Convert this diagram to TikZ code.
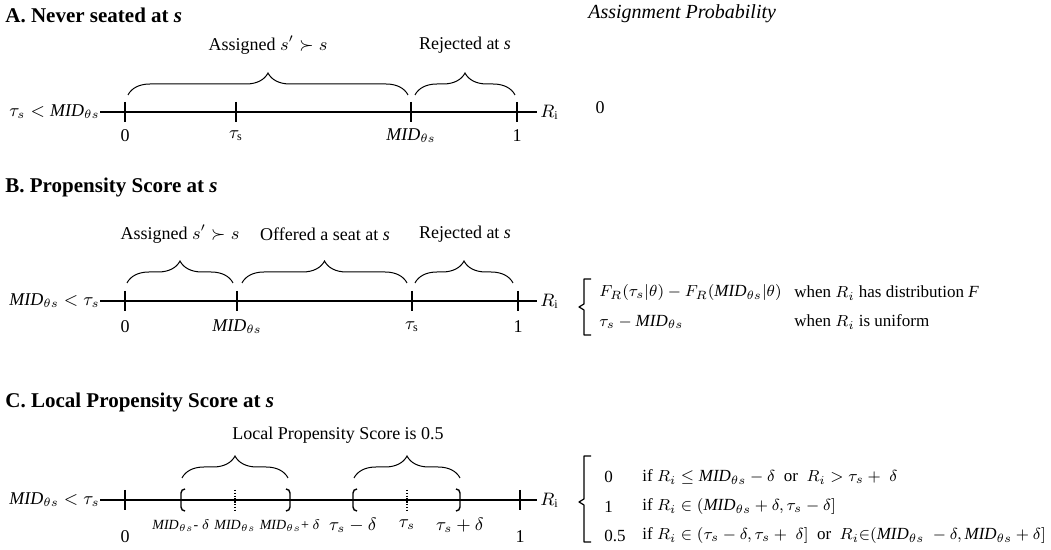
\documentclass[tikz,border=0pt]{standalone}
\usepackage{fontspec}
\setmainfont{Liberation Serif}
\usetikzlibrary{calc,decorations.pathreplacing}

\newcommand{\MID}{\mathit{MID}}

\begin{document}
\begin{tikzpicture}[x=0.5pt,y=0.5pt,
  axisline/.style={line width=1.2pt},
  tickmark/.style={line width=0.7pt},
  dottick/.style={line width=0.7pt,dash pattern=on 0.7pt off 0.7pt},
  brc/.style={decorate,decoration={brace,amplitude=11pt},line width=0.5pt},
  bigbrc/.style={line width=0.6pt,line join=round},
  txt/.style={font=\fontsize{9}{11}\selectfont,inner sep=0pt},
  sml/.style={font=\fontsize{7}{8}\selectfont,inner sep=0pt},
  cases/.style={font=\fontsize{8.5}{10}\selectfont,inner sep=0pt,anchor=west},
  rlbl/.style={txt,anchor=west,inner sep=1.5pt},
  ttl/.style={font=\fontsize{10.5}{12}\selectfont\bfseries,anchor=west,inner sep=0pt},
]
\useasboundingbox (0,0) rectangle (1051,-550);
% ---------- A ----------
\node[ttl] (ttlA) at (5,-15) {A. Never seated at \textit{s}};
\node[txt,font=\fontsize{10}{12}\selectfont\itshape,anchor=west] (prob) at (588,-14) {Assignment Probability};
\node[txt,anchor=east] (leftA) at (100,-112) {$\tau_s < \MID_{\theta s}$};
\node[rlbl] (RA) at (537,-112) {$R_{\mathrm{i}}$};
\draw[axisline] (leftA.east) -- (RA.west);
\foreach \x/\n in {125/a0,236/a1,411/a2,517/a3}
  \coordinate (\n) at (\x,-112);
\foreach \n in {a0,a1,a2,a3}
  \draw[tickmark] ($(\n)+(0,10)$) -- ($(\n)+(0,-10)$);
\node[txt] (la0) at (125,-136) {0};
\node[txt] (la1) at (236,-136) {$\tau_{\mathrm{s}}$};
\node[txt] (la2) at (411,-136) {$\MID_{\theta s}$};
\node[txt] (la3) at (517,-136) {1};
\draw[brc] ($(a0)+(3,17)$) -- ($(a2)+(-3,17)$);
\draw[brc] ($(a2)+(4,17)$) -- ($(a3)+(-2,17)$);
\node[txt] (asgA) at (268,-45) {Assigned $s' \succ s$};
\node[txt] (rejA) at (465,-45) {Rejected at \textit{s}};
\node[txt] (pA) at (600,-108) {0};
% ---------- B ----------
\node[ttl] (ttlB) at (5,-187) {B. Propensity Score at \textit{s}};
\node[txt,anchor=east] (leftB) at (100,-301) {$\MID_{\theta s} < \tau_s$};
\node[rlbl] (RB) at (537,-301) {$R_{\mathrm{i}}$};
\draw[axisline] (leftB.east) -- (RB.west);
\foreach \x/\n in {125/b0,237/b1,412/b2,518/b3}
  \coordinate (\n) at (\x,-301);
\foreach \n in {b0,b1,b2,b3}
  \draw[tickmark] ($(\n)+(0,10)$) -- ($(\n)+(0,-10)$);
\node[txt] (lb0) at (125,-327) {0};
\node[txt] (lb1) at (237,-327) {$\MID_{\theta s}$};
\node[txt] (lb2) at (412,-327) {$\tau_{\mathrm{s}}$};
\node[txt] (lb3) at (518,-327) {1};
\draw[brc] ($(b0)+(2,18)$) -- ($(b1)+(-4,18)$);
\draw[brc] ($(b1)+(5,18)$) -- ($(b2)+(-5,18)$);
\draw[brc] ($(b2)+(3,18)$) -- ($(b3)+(-5,18)$);
\node[txt] (asgB) at (180,-234) {Assigned $s' \succ s$};
\node[txt] (offB) at (325,-234) {Offered a seat at \textit{s}};
\node[txt] (rejB) at (465,-234) {Rejected at \textit{s}};
% right-hand cases
\draw[bigbrc] (591,-279) -- (584,-279) -- (584,-304) -- (579,-307) -- (584,-310) -- (584,-335) -- (591,-335);
\node[cases] (fB) at (599,-293) {$F_R(\tau_s|\theta) - F_R(\MID_{\theta s}|\theta)$};
\node[cases] (wB1) at (794,-293) {when $R_i$ has distribution \textit{F}};
\node[cases] (uB) at (599,-322) {$\tau_s - \MID_{\theta s}$};
\node[cases] (wB2) at (794,-322) {when $R_i$ is uniform};
% ---------- C ----------
\node[ttl] (ttlC) at (5,-402) {C. Local Propensity Score at \textit{s}};
\node[txt,anchor=east] (leftC) at (100,-500) {$\MID_{\theta s} < \tau_s$};
\node[rlbl] (RC) at (537,-500) {$R_{\mathrm{i}}$};
\draw[axisline] (leftC.east) -- (RC.west);
\foreach \x/\n in {125/c0,181/c1,235/c2,290/c3,353/c4,407/c5,460/c6,520/c7}
  \coordinate (\n) at (\x,-500);
\foreach \n in {c0,c7}
  \draw[tickmark] ($(\n)+(0,10)$) -- ($(\n)+(0,-10)$);
\foreach \n in {c2,c5}
  \draw[dottick] ($(\n)+(0,10)$) -- ($(\n)+(0,-10)$);
% open/closed interval ends
\foreach \n in {c1,c4}
  \draw[tickmark] ($(\n)+(4,11)$) to[out=180,in=90] ($(\n)+(0,7)$) -- ($(\n)+(0,-7)$) to[out=-90,in=180] ($(\n)+(4,-11)$);
\foreach \n in {c3,c6}
  \draw[tickmark] ($(\n)+(-4,11)$) to[out=0,in=90] ($(\n)+(0,7)$) -- ($(\n)+(0,-7)$) to[out=-90,in=0] ($(\n)+(-4,-11)$);
\node[txt] (lc0) at (125,-537) {0};
\node[sml] (lc1) at (181,-526) {$\MID_{\theta s}$- $\delta$};
\node[sml] (lc2) at (235,-526) {$\MID_{\theta s}$};
\node[sml] (lc3) at (290,-526) {$\MID_{\theta s}$+ $\delta$};
\node[txt] (lc4) at (353,-525) {$\tau_s - \delta$};
\node[txt] (lc5) at (407,-525) {$\tau_s$};
\node[txt] (lc6) at (460,-525) {$\tau_s + \delta$};
\node[txt] (lc7) at (520,-537) {1};
\draw[brc] ($(c1)+(1,22)$) -- ($(c3)+(-2,22)$);
\draw[brc] ($(c4)+(1,22)$) -- ($(c6)+(0,22)$);
\node[txt] (lpsC) at (338,-435) {Local Propensity Score is 0.5};
% right-hand cases
\draw[bigbrc] (591,-456) -- (584,-456) -- (584,-499) -- (579,-502) -- (584,-505) -- (584,-542) -- (591,-542);
\node[cases] (v0) at (604,-477) {0};
\node[cases] (v1) at (604,-507) {1};
\node[cases] (v2) at (604,-536) {0.5};
\node[cases] (i0) at (642,-477) {if $R_i \le \MID_{\theta s} - \delta$\ \ or\ \ $R_i > \tau_s +\;\delta$};
\node[cases] (i1) at (642,-507) {if $R_i \in (\MID_{\theta s} + \delta, \tau_s - \delta]$};
\node[cases] (i2) at (642,-536) {if $R_i \in (\tau_s - \delta, \tau_s +\;\delta]$\ \ or\ \ $R_i{\in}(\MID_{\theta s}\;- \delta, \MID_{\theta s} + \delta]$};
\end{tikzpicture}
\end{document}
